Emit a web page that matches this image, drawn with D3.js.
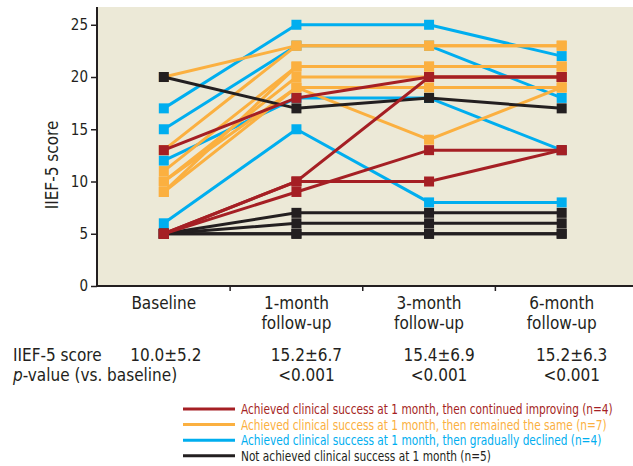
<!DOCTYPE html>
<html>
<head>
<meta charset="utf-8">
<script src="https://cdn.jsdelivr.net/npm/d3@7"></script>
<style>
  body { margin: 0; background: #fff; }
  svg text { font-family: "DejaVu Sans Condensed", "Liberation Sans", sans-serif; fill: #231F20; }
</style>
</head>
<body>
<svg id="chart" width="633" height="466"></svg>
<script>
const svg = d3.select('#chart');

// data
const categories = ['Baseline', '1-month follow-up', '3-month follow-up', '6-month follow-up'];
const yTicks = [0, 5, 10, 15, 20, 25];
const scoreRow = ['10.0±5.2', '15.2±6.7', '15.4±6.9', '15.2±6.3'];
const pRow = ['', '<0.001', '<0.001', '<0.001'];

const orangeLines = [
  [20, 23, 23, 23],
  [13, 23, 23, 23],
  [11, 21, 21, 21],
  [10, 20, 20, 20],
  [10, 19, 19, 19],
  [9, 19, 14, 19],
  [9, 21, 21, 21],
];
const blueLines = [
  [17, 25, 25, 22],
  [15, 23, 23, 18],
  [12, 18, 18, 13],
  [6, 15, 8, 8],
];
const blackLines = [
  [20, 17, 18, 17],
  [5, 7, 7, 7],
  [5, 6, 6, 6],
  [5, 5, 5, 5],
  [5, 5, 5, 5],
];
const redLines = [
  [13, 18, 20, 20],
  [5, 10, 20, 20],
  [5, 10, 10, 13],
  [5, 9, 13, 13],
];

const groups = [
  { name: 'Achieved clinical success at 1 month, then continued improving (n=4)', color: '#A51F24', lines: redLines },
  { name: 'Achieved clinical success at 1 month, then remained the same (n=7)', color: '#FBB040', lines: orangeLines },
  { name: 'Achieved clinical success at 1 month, then gradually declined (n=4)', color: '#00AEEF', lines: blueLines },
  { name: 'Not achieved clinical success at 1 month (n=5)', color: '#231F20', lines: blackLines },
];
const drawOrder = [2, 1, 3, 0];

// scales
const x = d3.scaleBand().domain(categories).range([97.5, 628]);
const y = d3.scaleLinear().domain([0, 26.7]).range([286, 7]);
const cx = c => x(c) + x.bandwidth() / 2;

svg.append('rect')
  .attr('x', 97).attr('y', 7)
  .attr('width', 633 - 97).attr('height', 286 - 7)
  .style('fill', '#ECE9D7');

// axes
const yAxis = svg.append('g')
  .attr('transform', 'translate(97,0)')
  .call(d3.axisLeft(y).tickValues(yTicks).tickSize(6).tickPadding(3));
yAxis.select('.domain').remove();
yAxis.append('line')
  .attr('x1', 0).attr('x2', 0).attr('y1', 7).attr('y2', 286)
  .style('stroke', '#231F20').style('stroke-width', 2);
yAxis.selectAll('.tick line').style('stroke', '#231F20').style('stroke-width', 1.5);
yAxis.selectAll('.tick text').style('font-size', '15px').style('fill', '#231F20');

const xAxis = svg.append('g').attr('transform', 'translate(0,286)');
xAxis.append('line')
  .attr('x1', 97).attr('x2', 633).attr('y1', 0).attr('y2', 0)
  .style('stroke', '#231F20').style('stroke-width', 2);
xAxis.selectAll('line.tk')
  .data(categories.slice(1))
  .enter()
  .append('line')
  .attr('class', 'tk')
  .attr('x1', d => x(d)).attr('x2', d => x(d))
  .attr('y1', 0).attr('y2', 5)
  .style('stroke', '#231F20').style('stroke-width', 1.5);

// category labels
categories.forEach(c => {
  const parts = c === 'Baseline' ? ['Baseline'] : [c.split(' ')[0], c.split(' ')[1]];
  const t = svg.append('text')
    .attr('x', cx(c))
    .attr('y', 309)
    .attr('text-anchor', 'middle')
    .style('font-size', '17px');
  parts.forEach((p, i) => {
    t.append('tspan').attr('x', cx(c)).attr('dy', i ? 20 : 0).text(p);
  });
});

svg.append('text')
  .attr('transform', 'translate(58,165) rotate(-90)')
  .attr('text-anchor', 'middle')
  .style('font-size', '17px')
  .text('IIEF-5 score');

// lines and markers
const line = d3.line()
  .x((d, i) => cx(categories[i]))
  .y(d => y(d));

drawOrder.forEach(gi => {
  const g = groups[gi];
  const layer = svg.append('g');
  layer.selectAll('path')
    .data(g.lines)
    .enter()
    .append('path')
    .attr('d', line)
    .style('fill', 'none')
    .style('stroke', g.color)
    .style('stroke-width', 3);
  g.lines.forEach(vals => {
    layer.selectAll(null)
      .data(vals)
      .enter()
      .append('rect')
      .attr('x', (d, i) => cx(categories[i]) - 5)
      .attr('y', d => y(d) - 5)
      .attr('width', 10).attr('height', 10)
      .style('fill', g.color);
  });
});

// table rows
svg.append('text').attr('x', 13).attr('y', 361).style('font-size', '17px').text('IIEF-5 score');
const pLabel = svg.append('text').attr('x', 13).attr('y', 381).style('font-size', '17px');
pLabel.append('tspan').style('font-style', 'italic').text('p');
pLabel.append('tspan').text('-value (vs. baseline)');

svg.selectAll('text.score')
  .data(scoreRow)
  .enter()
  .append('text')
  .attr('class', 'score')
  .attr('x', (d, i) => cx(categories[i]) + (i ? 10 : 2))
  .attr('y', 361)
  .attr('text-anchor', 'middle')
  .style('font-size', '17px')
  .text(d => d);
svg.selectAll('text.pval')
  .data(pRow)
  .enter()
  .append('text')
  .attr('class', 'pval')
  .attr('x', (d, i) => cx(categories[i]) + 10)
  .attr('y', 381)
  .attr('text-anchor', 'middle')
  .style('font-size', '17px')
  .text(d => d);

// legend (narrow font in the original, so scale the text horizontally)
const legend = svg.append('g');
const legendTexts = [];
groups.forEach((g, i) => {
  const ly = 409 + i * 15.6;
  legend.append('line')
    .attr('x1', 183).attr('x2', 235)
    .attr('y1', ly).attr('y2', ly)
    .style('stroke', g.color).style('stroke-width', 3);
  legendTexts.push(legend.append('text')
    .attr('y', ly + 5)
    .style('font-size', '14.5px')
    .style('fill', g.color)
    .text(g.name));
});
const k = 372 / legendTexts[0].node().getComputedTextLength();
legendTexts.forEach(t => {
  const ly = +t.attr('y');
  t.attr('y', 0).attr('transform', `translate(241,${ly}) scale(${k},1)`);
});
</script>
</body>
</html>
